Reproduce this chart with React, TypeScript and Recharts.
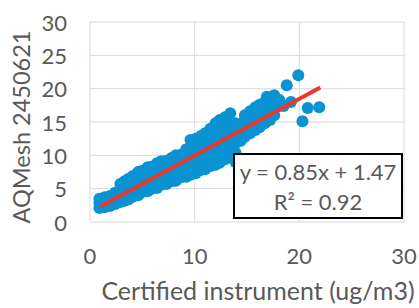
import { ScatterChart, Scatter, XAxis, YAxis, CartesianGrid, Label } from 'recharts'

// [certified, aqmesh] readings, grouped roughly by x
const lowRangePoints: [number, number][] = [
  [0.9, 2.1], [0.9, 2.9], [0.9, 3.5],
  [1.4, 2.2], [1.4, 3.0], [1.4, 3.7],
  [1.9, 2.4], [1.9, 3.3], [1.9, 3.9],
  [2.4, 2.7], [2.4, 3.5], [2.4, 4.4],
  [2.9, 3.0], [2.9, 3.9], [2.9, 4.8], [2.9, 5.7],
  [3.3, 3.2], [3.3, 4.2], [3.3, 5.1], [3.3, 6.1],
  [3.7, 3.4], [3.7, 4.4], [3.7, 5.4], [3.7, 6.5],
  [4.1, 3.8], [4.1, 4.7], [4.1, 5.8], [4.1, 6.9],
  [4.6, 4.0], [4.6, 5.1], [4.6, 6.2], [4.6, 7.5],
  [5.0, 4.5], [5.0, 5.4], [5.0, 6.5], [5.0, 7.7],
  [5.5, 4.6], [5.5, 5.8], [5.5, 6.9], [5.5, 8.2],
  [5.9, 5.0], [5.9, 6.0], [5.9, 7.2], [5.9, 8.3],
  [6.4, 5.1], [6.4, 6.4], [6.4, 7.6], [6.4, 8.8],
  [6.8, 5.6], [6.8, 6.7], [6.8, 7.9], [6.8, 9.1],
  [7.3, 5.7], [7.3, 7.0], [7.3, 8.2], [7.3, 9.2],
  [7.8, 6.1], [7.8, 7.3], [7.8, 8.5], [7.8, 9.6],
  [8.2, 6.2], [8.2, 7.6], [8.2, 8.8], [8.2, 10.0],
  [8.7, 6.7], [8.7, 7.9], [8.7, 9.1], [8.7, 10.1],
]

const midRangePoints: [number, number][] = [
  [9.2, 6.8], [9.2, 8.1], [9.2, 9.5], [9.2, 10.9],
  [9.6, 7.1], [9.6, 8.4], [9.6, 9.8], [9.6, 11.2], [9.6, 12.3],
  [10.1, 7.3], [10.1, 8.8], [10.1, 10.2], [10.1, 11.6], [10.1, 12.5],
  [10.6, 7.8], [10.6, 9.1], [10.6, 10.6], [10.6, 12.0], [10.6, 12.9],
  [11.0, 7.9], [11.0, 9.4], [11.0, 10.9], [11.0, 12.4], [11.0, 13.3],
  [11.5, 8.4], [11.5, 9.8], [11.5, 11.3], [11.5, 12.8], [11.5, 14.0],
  [12.0, 8.6], [12.0, 10.1], [12.0, 11.7], [12.0, 13.3], [12.0, 14.8],
  [12.4, 8.9], [12.4, 10.5], [12.4, 12.1], [12.4, 13.7], [12.4, 15.3],
  [12.9, 9.4], [12.9, 11.0], [12.9, 12.6], [12.9, 14.2], [12.9, 15.7],
  [13.4, 10.0], [13.4, 11.5], [13.4, 13.1], [13.4, 14.7], [13.4, 16.3],
  [13.9, 9.0], [13.9, 10.4], [13.9, 11.8], [13.9, 13.3], [13.9, 14.8],
]

const highRangePoints: [number, number][] = [
  [14.4, 12.2], [14.4, 13.4], [14.4, 14.6],
  [14.8, 12.8], [14.8, 14.0], [14.8, 15.3], [14.8, 16.0],
  [15.3, 13.3], [15.3, 14.5], [15.3, 15.8], [15.3, 16.6],
  [15.8, 13.8], [15.8, 15.0], [15.8, 16.2], [15.8, 17.2],
  [16.2, 14.2], [16.2, 15.4], [16.2, 16.6], [16.2, 17.6],
  [16.7, 14.8], [16.7, 15.9], [16.7, 17.0], [16.7, 18.0],
  [16.9, 18.8],
  [17.2, 15.3], [17.2, 16.4], [17.2, 17.5], [17.2, 18.5],
  [17.6, 16.0], [17.6, 17.0], [17.6, 18.0], [17.6, 19.0],
  [18.1, 17.4], [18.1, 18.3],
  [18.5, 17.4],
  [19.2, 18.0],
]

const outlierPoints: [number, number][] = [
  [18.8, 20.5], [19.9, 22.0], [20.3, 15.1], [20.8, 17.1], [21.9, 17.2],
]

const xTicks = [0, 10, 20, 30]
const yTicks = [0, 5, 10, 15, 20, 25, 30]

// regression line end points (y = 0.85x + 1.47 over the data range)
const trendPoints = [
  { x: 1, y: 2.32 },
  { x: 22, y: 20.17 },
]

const equationText = 'y = 0.85x + 1.47'
const rSquaredText = 'R² = 0.92'
const xTitle = 'Certified instrument (ug/m3)'
const yTitle = 'AQMesh 2450621'

const FONT = 'Lato, "Open Sans", sans-serif'
const TEXT_COLOR = '#595959'
const DOT_COLOR = '#0A92D2'
const TREND_COLOR = '#E8392C'

const toRows = (pts: [number, number][]) => pts.map(([x, y]) => ({ x, y }))

const allPoints = [
  ...toRows(lowRangePoints),
  ...toRows(midRangePoints),
  ...toRows(highRangePoints),
  ...toRows(outlierPoints),
]

const Dot = (props: any) => <circle cx={props.cx} cy={props.cy} r={6} fill={DOT_COLOR} />
const NoDot = () => <g />

const XTick = (props: any) => (
  <text x={props.x} y={255} textAnchor="middle" dominantBaseline="central" fill={TEXT_COLOR} fontSize={22} fontFamily={FONT}>
    {props.payload.value}
  </text>
)

const YTick = (props: any) => (
  <text x={67} y={props.y} textAnchor="end" dominantBaseline="central" fill={TEXT_COLOR} fontSize={22} fontFamily={FONT}>
    {props.payload.value}
  </text>
)

export default function App() {
  return (
    <div style={{ position: 'absolute', left: 0, top: 0, width: 419, height: 308, background: '#fff', fontFamily: FONT }}>
      <ScatterChart width={419} height={308} margin={{ top: 22, right: 15, left: 0, bottom: 0 }}>
        <CartesianGrid stroke="#D9D9D9" strokeWidth={1} />
        <XAxis
          type="number"
          dataKey="x"
          domain={[0, 30]}
          ticks={xTicks}
          tickLine={false}
          axisLine={false}
          height={86}
          tick={XTick}
        >
          <Label
            content={() => (
              <text x={258} y={300} textAnchor="middle" fill={TEXT_COLOR} fontSize={25} fontFamily={FONT}>
                {xTitle}
              </text>
            )}
          />
        </XAxis>
        <YAxis
          type="number"
          dataKey="y"
          domain={[0, 30]}
          ticks={yTicks}
          tickLine={false}
          axisLine={false}
          width={90}
          tick={YTick}
        >
          <Label
            content={() => (
              <text
                x={21}
                y={127}
                transform="rotate(-90 21 127)"
                textAnchor="middle"
                dominantBaseline="central"
                fill={TEXT_COLOR}
                fontSize={23.5}
                fontFamily={FONT}
              >
                {yTitle}
              </text>
            )}
          />
        </YAxis>
        <Scatter data={allPoints} shape={Dot} isAnimationActive={false} />
        <Scatter
          data={trendPoints}
          shape={NoDot}
          stroke={TREND_COLOR}
          strokeWidth={4}
          line={{ stroke: TREND_COLOR, strokeWidth: 4 }}
          isAnimationActive={false}
        />
      </ScatterChart>
      <div
        style={{
          position: 'absolute',
          left: 233,
          top: 153,
          width: 166,
          height: 60,
          border: '2px solid #000',
          background: '#fff',
          color: TEXT_COLOR,
          fontSize: 22,
          lineHeight: '30px',
          textAlign: 'center',
          whiteSpace: 'nowrap',
          paddingTop: 2,
        }}
      >
        <div>{equationText}</div>
        <div>{rSquaredText}</div>
      </div>
    </div>
  )
}
